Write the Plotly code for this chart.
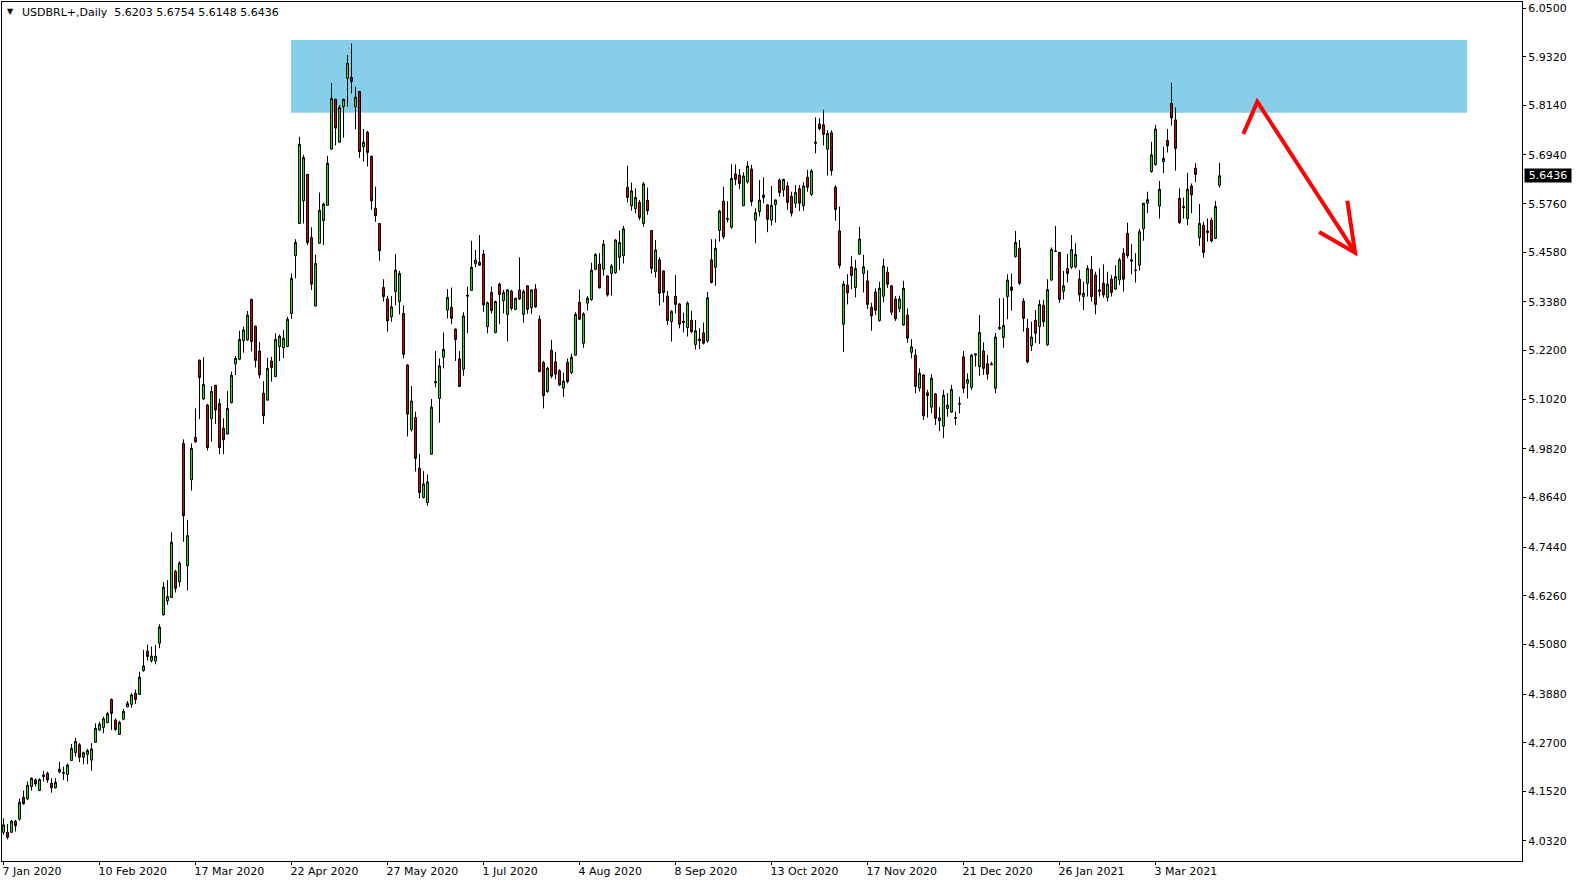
import plotly.graph_objects as go

# ---------------- data (USDBRL+, Daily) ----------------
symbol_title = "USDBRL+,Daily"
last_ohlc = [5.6203, 5.6754, 5.6148, 5.6436]

opens = [
    4.053, 4.053, 4.053, 4.080, 4.085, 4.138, 4.134, 4.164, 4.180, 4.154,
    4.192, 4.196, 4.172, 4.161, 4.199, 4.196, 4.193, 4.227, 4.246, 4.265,
    4.235, 4.242, 4.228, 4.271, 4.301, 4.307, 4.319, 4.375, 4.325, 4.290,
    4.327, 4.357, 4.363, 4.390, 4.387, 4.445, 4.492, 4.469, 4.468, 4.511,
    4.580, 4.614, 4.622, 4.685, 4.660, 4.995, 4.699, 4.907, 5.010, 5.197,
    5.103, 5.088, 5.055, 5.136, 5.092, 5.032, 5.018, 5.094, 5.188, 5.199,
    5.244, 5.246, 5.344, 5.279, 5.219, 5.117, 5.100, 5.195, 5.157, 5.230,
    5.227, 5.230, 5.310, 5.450, 5.528, 5.583, 5.647, 5.494, 5.328, 5.480,
    5.535, 5.572, 5.708, 5.829, 5.725, 5.811, 5.880, 5.882, 5.811, 5.848,
    5.714, 5.749, 5.691, 5.565, 5.528, 5.373, 5.345, 5.302, 5.363, 5.339,
    5.310, 5.185, 5.029, 5.058, 4.935, 4.864, 4.852, 4.969, 5.142, 5.104,
    5.204, 5.318, 5.325, 5.272, 5.200, 5.175, 5.352, 5.366, 5.431, 5.434,
    5.454, 5.278, 5.361, 5.264, 5.381, 5.341, 5.308, 5.364, 5.320, 5.367,
    5.308, 5.377, 5.324, 5.369, 5.296, 5.191, 5.121, 5.221, 5.193, 5.171,
    5.129, 5.192, 5.167, 5.209, 5.337, 5.238, 5.335, 5.344, 5.417, 5.430,
    5.417, 5.401, 5.407, 5.409, 5.446, 5.450, 5.616, 5.571, 5.564, 5.579,
    5.528, 5.584, 5.511, 5.411, 5.440, 5.413, 5.352, 5.290, 5.352, 5.333,
    5.291, 5.276, 5.294, 5.235, 5.248, 5.263, 5.244, 5.440, 5.422, 5.511,
    5.582, 5.538, 5.519, 5.648, 5.645, 5.571, 5.629, 5.660, 5.536, 5.557,
    5.597, 5.573, 5.536, 5.574, 5.633, 5.609, 5.619, 5.594, 5.577, 5.612,
    5.571, 5.640, 5.598, 5.722, 5.769, 5.767, 5.708, 5.748, 5.616, 5.510,
    5.284, 5.379, 5.423, 5.373, 5.454, 5.407, 5.389, 5.325, 5.362, 5.293,
    5.352, 5.410, 5.377, 5.345, 5.322, 5.282, 5.306, 5.216, 5.209, 5.129,
    5.161, 5.118, 5.083, 5.115, 5.050, 5.037, 5.080, 5.071, 5.058, 5.090,
    5.205, 5.141, 5.131, 5.209, 5.181, 5.219, 5.188, 5.188, 5.129, 5.273,
    5.252, 5.351, 5.374, 5.448, 5.468, 5.340, 5.274, 5.232, 5.294, 5.278,
    5.330, 5.234, 5.391, 5.460, 5.458, 5.364, 5.419, 5.422, 5.423, 5.393,
    5.351, 5.383, 5.417, 5.403, 5.367, 5.383, 5.349, 5.393, 5.369, 5.391,
    5.456, 5.504, 5.440, 5.414, 5.427, 5.515, 5.577, 5.654, 5.671, 5.570,
    5.678, 5.729, 5.819, 5.779, 5.589, 5.569, 5.540, 5.619, 5.662, 5.494,
    5.524, 5.510, 5.536, 5.492, 5.6203,
]

highs = [
    4.087, 4.073, 4.083, 4.083, 4.135, 4.154, 4.176, 4.186, 4.184, 4.184,
    4.202, 4.200, 4.184, 4.184, 4.224, 4.212, 4.220, 4.267, 4.282, 4.269,
    4.248, 4.255, 4.269, 4.317, 4.321, 4.333, 4.345, 4.377, 4.329, 4.323,
    4.352, 4.371, 4.390, 4.399, 4.442, 4.495, 4.508, 4.503, 4.507, 4.557,
    4.659, 4.664, 4.780, 4.689, 4.710, 5.005, 4.810, 4.995, 5.080, 5.198,
    5.204, 5.091, 5.134, 5.137, 5.103, 5.056, 5.122, 5.169, 5.207, 5.268,
    5.278, 5.316, 5.346, 5.281, 5.241, 5.146, 5.202, 5.205, 5.262, 5.259,
    5.270, 5.302, 5.407, 5.490, 5.738, 5.694, 5.648, 5.519, 5.452, 5.603,
    5.579, 5.692, 5.868, 5.830, 5.815, 5.830, 5.936, 5.964, 5.859, 5.849,
    5.757, 5.752, 5.692, 5.617, 5.529, 5.393, 5.353, 5.352, 5.454, 5.413,
    5.330, 5.187, 5.134, 5.072, 4.970, 4.928, 4.920, 5.103, 5.219, 5.201,
    5.264, 5.369, 5.373, 5.274, 5.219, 5.313, 5.375, 5.486, 5.464, 5.500,
    5.464, 5.339, 5.375, 5.341, 5.385, 5.367, 5.369, 5.367, 5.348, 5.446,
    5.368, 5.378, 5.368, 5.381, 5.305, 5.195, 5.181, 5.246, 5.217, 5.175,
    5.167, 5.201, 5.213, 5.313, 5.368, 5.313, 5.352, 5.433, 5.456, 5.456,
    5.488, 5.402, 5.430, 5.490, 5.511, 5.522, 5.668, 5.627, 5.613, 5.585,
    5.628, 5.615, 5.512, 5.488, 5.446, 5.414, 5.365, 5.318, 5.403, 5.335,
    5.312, 5.339, 5.316, 5.294, 5.274, 5.288, 5.362, 5.490, 5.490, 5.561,
    5.617, 5.582, 5.671, 5.671, 5.660, 5.652, 5.679, 5.670, 5.565, 5.633,
    5.640, 5.575, 5.619, 5.586, 5.637, 5.636, 5.629, 5.605, 5.621, 5.621,
    5.628, 5.658, 5.660, 5.785, 5.783, 5.803, 5.754, 5.754, 5.621, 5.569,
    5.389, 5.405, 5.449, 5.440, 5.520, 5.452, 5.415, 5.336, 5.371, 5.387,
    5.443, 5.423, 5.379, 5.352, 5.353, 5.389, 5.322, 5.248, 5.224, 5.177,
    5.163, 5.125, 5.163, 5.117, 5.083, 5.125, 5.117, 5.137, 5.072, 5.108,
    5.219, 5.165, 5.212, 5.213, 5.306, 5.240, 5.209, 5.193, 5.263, 5.347,
    5.347, 5.405, 5.407, 5.510, 5.488, 5.347, 5.297, 5.290, 5.318, 5.343,
    5.343, 5.393, 5.470, 5.522, 5.459, 5.413, 5.454, 5.500, 5.480, 5.415,
    5.387, 5.427, 5.449, 5.411, 5.419, 5.429, 5.411, 5.403, 5.427, 5.445,
    5.468, 5.530, 5.478, 5.456, 5.515, 5.578, 5.605, 5.726, 5.767, 5.631,
    5.714, 5.757, 5.869, 5.809, 5.613, 5.591, 5.651, 5.625, 5.674, 5.575,
    5.532, 5.540, 5.542, 5.583, 5.6754,
]

lows = [
    4.047, 4.036, 4.052, 4.055, 4.081, 4.120, 4.131, 4.154, 4.164, 4.153,
    4.176, 4.173, 4.149, 4.159, 4.196, 4.180, 4.176, 4.226, 4.236, 4.223,
    4.218, 4.218, 4.202, 4.270, 4.299, 4.293, 4.317, 4.301, 4.299, 4.289,
    4.325, 4.356, 4.355, 4.364, 4.386, 4.442, 4.469, 4.464, 4.460, 4.499,
    4.578, 4.604, 4.621, 4.634, 4.648, 4.757, 4.639, 4.881, 4.997, 5.054,
    5.100, 4.978, 4.999, 5.042, 4.969, 4.969, 5.016, 5.092, 5.161, 5.197,
    5.215, 5.244, 5.218, 5.179, 5.153, 5.042, 5.099, 5.145, 5.156, 5.195,
    5.202, 5.228, 5.297, 5.395, 5.527, 5.528, 5.476, 5.367, 5.327, 5.479,
    5.476, 5.571, 5.707, 5.717, 5.724, 5.736, 5.811, 5.843, 5.756, 5.687,
    5.678, 5.666, 5.561, 5.532, 5.438, 5.339, 5.266, 5.290, 5.330, 5.308,
    5.201, 5.012, 5.024, 4.927, 4.862, 4.862, 4.844, 4.968, 5.131, 5.045,
    5.177, 5.298, 5.284, 5.195, 5.132, 5.159, 5.262, 5.365, 5.422, 5.426,
    5.314, 5.262, 5.310, 5.262, 5.284, 5.310, 5.242, 5.317, 5.318, 5.343,
    5.288, 5.309, 5.309, 5.324, 5.168, 5.080, 5.118, 5.153, 5.150, 5.134,
    5.108, 5.141, 5.163, 5.208, 5.295, 5.227, 5.317, 5.341, 5.415, 5.371,
    5.402, 5.351, 5.353, 5.406, 5.415, 5.431, 5.579, 5.559, 5.553, 5.536,
    5.520, 5.549, 5.407, 5.397, 5.329, 5.337, 5.282, 5.242, 5.310, 5.274,
    5.264, 5.254, 5.262, 5.223, 5.224, 5.235, 5.239, 5.383, 5.377, 5.484,
    5.490, 5.531, 5.515, 5.621, 5.612, 5.570, 5.625, 5.570, 5.480, 5.545,
    5.577, 5.507, 5.523, 5.530, 5.593, 5.593, 5.561, 5.545, 5.566, 5.558,
    5.559, 5.605, 5.595, 5.698, 5.754, 5.717, 5.644, 5.644, 5.535, 5.419,
    5.217, 5.332, 5.369, 5.349, 5.452, 5.361, 5.321, 5.268, 5.306, 5.290,
    5.337, 5.372, 5.306, 5.292, 5.313, 5.280, 5.239, 5.201, 5.117, 5.121,
    5.052, 5.058, 5.068, 5.040, 5.025, 5.008, 5.060, 5.070, 5.040, 5.068,
    5.117, 5.104, 5.125, 5.181, 5.159, 5.161, 5.150, 5.185, 5.117, 5.270,
    5.227, 5.296, 5.317, 5.445, 5.379, 5.266, 5.189, 5.219, 5.238, 5.236,
    5.278, 5.231, 5.389, 5.459, 5.336, 5.344, 5.385, 5.418, 5.419, 5.339,
    5.318, 5.351, 5.339, 5.308, 5.351, 5.348, 5.339, 5.351, 5.367, 5.379,
    5.363, 5.444, 5.405, 5.385, 5.414, 5.486, 5.553, 5.651, 5.668, 5.540,
    5.650, 5.700, 5.765, 5.656, 5.527, 5.540, 5.524, 5.553, 5.628, 5.474,
    5.445, 5.484, 5.482, 5.490, 5.6148,
]

closes = [
    4.071, 4.041, 4.080, 4.069, 4.126, 4.122, 4.167, 4.184, 4.170, 4.181,
    4.188, 4.180, 4.161, 4.174, 4.206, 4.198, 4.216, 4.256, 4.273, 4.235,
    4.246, 4.251, 4.255, 4.305, 4.315, 4.328, 4.341, 4.341, 4.302, 4.319,
    4.346, 4.365, 4.386, 4.375, 4.429, 4.456, 4.479, 4.480, 4.480, 4.550,
    4.647, 4.624, 4.756, 4.644, 4.705, 4.820, 4.772, 4.983, 4.999, 5.155,
    5.138, 4.985, 5.121, 5.076, 4.985, 5.004, 5.080, 5.160, 5.201, 5.247,
    5.270, 5.306, 5.242, 5.196, 5.161, 5.062, 5.177, 5.179, 5.247, 5.255,
    5.250, 5.296, 5.395, 5.482, 5.720, 5.688, 5.482, 5.381, 5.431, 5.560,
    5.575, 5.674, 5.831, 5.759, 5.809, 5.829, 5.916, 5.872, 5.834, 5.702,
    5.725, 5.700, 5.583, 5.547, 5.462, 5.351, 5.292, 5.326, 5.415, 5.407,
    5.211, 5.066, 5.098, 4.959, 4.876, 4.897, 4.902, 5.083, 5.145, 5.183,
    5.223, 5.349, 5.298, 5.247, 5.133, 5.304, 5.354, 5.422, 5.439, 5.427,
    5.331, 5.336, 5.317, 5.339, 5.356, 5.361, 5.367, 5.322, 5.347, 5.345,
    5.363, 5.320, 5.367, 5.326, 5.169, 5.111, 5.177, 5.158, 5.163, 5.137,
    5.146, 5.145, 5.204, 5.308, 5.296, 5.309, 5.347, 5.415, 5.453, 5.372,
    5.478, 5.355, 5.425, 5.488, 5.482, 5.515, 5.591, 5.607, 5.591, 5.542,
    5.624, 5.559, 5.419, 5.464, 5.359, 5.361, 5.293, 5.315, 5.332, 5.284,
    5.288, 5.335, 5.266, 5.268, 5.244, 5.238, 5.348, 5.385, 5.468, 5.558,
    5.496, 5.540, 5.637, 5.635, 5.625, 5.643, 5.667, 5.581, 5.554, 5.585,
    5.591, 5.538, 5.572, 5.585, 5.603, 5.635, 5.579, 5.553, 5.603, 5.577,
    5.619, 5.616, 5.655, 5.725, 5.758, 5.744, 5.746, 5.656, 5.562, 5.426,
    5.381, 5.360, 5.402, 5.419, 5.490, 5.423, 5.332, 5.304, 5.318, 5.371,
    5.425, 5.381, 5.313, 5.297, 5.345, 5.371, 5.250, 5.229, 5.133, 5.165,
    5.062, 5.111, 5.153, 5.056, 5.057, 5.112, 5.088, 5.126, 5.056, 5.092,
    5.129, 5.150, 5.209, 5.212, 5.264, 5.177, 5.163, 5.186, 5.253, 5.276,
    5.281, 5.391, 5.366, 5.482, 5.383, 5.298, 5.193, 5.253, 5.262, 5.332,
    5.290, 5.368, 5.465, 5.461, 5.344, 5.377, 5.407, 5.465, 5.453, 5.355,
    5.359, 5.419, 5.351, 5.332, 5.364, 5.355, 5.381, 5.361, 5.399, 5.440,
    5.393, 5.450, 5.437, 5.415, 5.508, 5.577, 5.586, 5.694, 5.757, 5.611,
    5.686, 5.716, 5.784, 5.710, 5.530, 5.566, 5.611, 5.597, 5.647, 5.528,
    5.458, 5.506, 5.486, 5.569, 5.6436,
]

date_labels = ["7 Jan 2020", "10 Feb 2020", "17 Mar 2020", "22 Apr 2020",
               "27 May 2020", "1 Jul 2020", "4 Aug 2020", "8 Sep 2020",
               "13 Oct 2020", "17 Nov 2020", "21 Dec 2020", "26 Jan 2021",
               "3 Mar 2021"]
bars_per_label = 24

price_ticks = [6.0500, 5.9320, 5.8140, 5.6940, 5.5760, 5.4580, 5.3380, 5.2200,
               5.1020, 4.9820, 4.8640, 4.7440, 4.6260, 4.5080, 4.3880, 4.2700,
               4.1520, 4.0320]

# resistance zone (bar index range, price range)
zone_bars = [71.9, 365.9]
zone_prices = [5.7964, 5.9725]
# hand-drawn red arrow (bar index, price)
arrow_line = [(309.95, 5.7448), (313.45, 5.8230), (337.9, 5.4572)]
arrow_head = [(328.9, 5.5074), (337.9, 5.4572), (335.95, 5.5832)]

# ---------------- figure ----------------
FONT = "DejaVu Sans"
xs = list(range(len(closes)))

fig = go.Figure(go.Candlestick(
    x=xs, open=opens, high=highs, low=lows, close=closes,
    increasing=dict(line=dict(color="black", width=1), fillcolor="#00FF00"),
    decreasing=dict(line=dict(color="black", width=1), fillcolor="#E00000"),
    whiskerwidth=0, hoverinfo="skip", showlegend=False,
))


def path_of(points):
    return "M " + " L ".join(f"{px},{py}" for px, py in points)


fig.update_layout(
    width=1579, height=884,
    margin=dict(l=2, r=57, t=2, b=23, autoexpand=False),
    paper_bgcolor="white", plot_bgcolor="white",
    showlegend=False,
    font=dict(family=FONT, size=11, color="black"),
    shapes=[
        dict(type="rect", xref="x", yref="y",
             x0=zone_bars[0], x1=zone_bars[1], y0=zone_prices[0], y1=zone_prices[1],
             fillcolor="#87CEEB", line=dict(width=0), layer="below"),
        dict(type="path", xref="x", yref="y", path=path_of(arrow_line),
             line=dict(color="#FF0000", width=4)),
        dict(type="path", xref="x", yref="y", path=path_of(arrow_head),
             line=dict(color="#FF0000", width=4)),
    ],
    annotations=[
        dict(xref="paper", yref="paper", x=0, y=1, xanchor="left", yanchor="top",
             xshift=3, yshift=-3, text="\u25bc", showarrow=False,
             font=dict(family=FONT, size=8, color="black")),
        dict(xref="paper", yref="paper", x=0, y=1, xanchor="left", yanchor="top",
             xshift=18, yshift=-2, showarrow=False,
             text=symbol_title + "\u00a0\u00a0" + " ".join(f"{v:.4f}" for v in last_ohlc),
             font=dict(family=FONT, size=11, color="black")),
        dict(xref="paper", yref="y", x=1, y=last_ohlc[3], xanchor="left", yanchor="middle",
             xshift=2, text=f"{last_ohlc[3]:.4f}", showarrow=False,
             bgcolor="black", width=46, height=13, borderpad=0,
             font=dict(family=FONT, size=11, color="white")),
    ],
)

fig.update_xaxes(
    range=[-0.375, 379.625],
    tickvals=[i * bars_per_label for i in range(len(date_labels))],
    ticktext=date_labels,
    ticks="outside", ticklen=3, tickcolor="black",
    ticklabelposition="outside right",
    ticklabelshift=-2,
    showgrid=False, zeroline=False,
    showline=True, linecolor="black", linewidth=1, mirror=True,
    rangeslider=dict(visible=False),
    tickfont=dict(family=FONT, size=11, color="black"),
)
fig.update_yaxes(
    side="right",
    range=[3.9835, 6.0646],
    tickvals=price_ticks,
    ticktext=[f"{v:.4f}" for v in price_ticks],
    ticks="outside", ticklen=3, tickcolor="black",
    showgrid=False, zeroline=False,
    showline=True, linecolor="black", linewidth=1, mirror=True,
    tickfont=dict(family=FONT, size=11, color="black"),
)

fig.write_html("out.html", config={"displayModeBar": False},
               post_script="document.body.style.margin='0';"
                           "document.body.style.overflow='hidden';")
